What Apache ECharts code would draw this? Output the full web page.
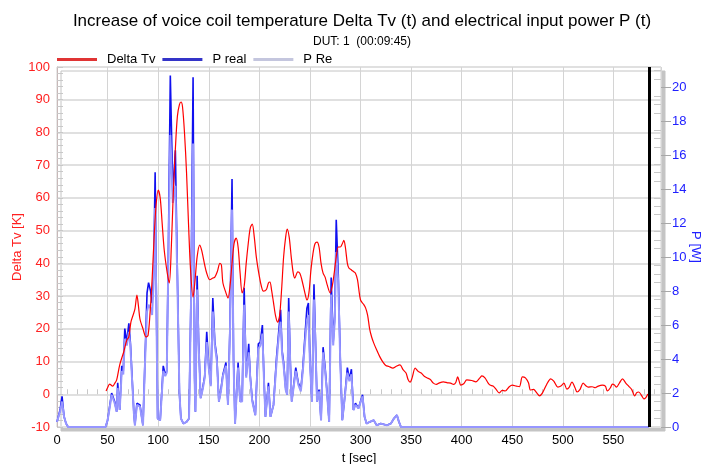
<!DOCTYPE html>
<html>
<head>
<meta charset="utf-8">
<script src="https://cdn.jsdelivr.net/npm/echarts@6/dist/echarts.min.js"></script>
<style>
  html, body { margin: 0; padding: 0; background: #fff; }
  #chart { width: 702px; height: 464px; }
</style>
</head>
<body>
<div id="chart"></div>
<script>
const FONT = "'Liberation Sans', Arial, sans-serif";

// Delta Tv [K] over t [sec]
const tempTime = [48.5, 50, 52, 55, 57, 59, 62, 66, 69, 71, 73, 75, 77, 79, 80.5, 82, 85, 88, 90, 92, 94, 96, 98, 100, 102, 104, 106, 109, 111, 113, 115, 117, 119, 121, 122.6, 124, 126, 128, 130, 132, 134.5, 136.5, 138.5, 141, 143, 146, 148, 151, 154, 156, 158.5, 161, 162.5, 164, 167, 169, 171, 173, 175, 177, 179, 181, 183, 185, 187, 189, 191, 193, 195, 197, 200, 202, 204, 207, 209, 210.5, 212, 214, 216, 218, 220, 222, 224, 226, 227.5, 229.5, 231.5, 233.5, 235, 238, 240, 242, 245, 247, 249, 251, 253, 255, 257, 259, 261, 263, 265, 267, 270, 272, 274, 276, 278, 280, 282, 283.5, 285, 287, 288.5, 291, 293, 295, 297, 300, 303, 305, 307, 309, 311, 313, 316, 319, 322, 325, 328, 332, 335, 339, 342, 345, 347, 349, 351, 354, 357, 360, 363, 366, 369, 372, 375, 378, 382, 386, 389, 392, 394, 396, 398, 399, 402, 405, 410, 414, 418, 420, 423, 426, 428, 431, 434, 437, 440, 443, 447, 450, 454, 457, 460, 463, 466, 468, 471, 474, 477, 480, 484, 488, 491, 495, 498, 501, 504, 506, 509, 512, 514, 517, 520, 523, 525, 529, 532, 535, 539, 542, 544, 547, 549, 551, 553, 556, 559, 562, 565, 568, 571, 573, 575, 578, 580, 582, 584];
const deltaTv = [1, 2, 3.1, 2.5, 3.3, 4.4, 9, 13, 16.6, 17.5, 22, 24, 26, 30.3, 27, 23, 20, 17.5, 18, 25, 35, 48, 58, 62.4, 60, 52, 44, 37, 34, 45, 62, 75, 85, 88.5, 89.3, 88, 80, 68, 52, 38, 29.7, 35, 42, 45.6, 44, 39.5, 37, 35, 35.5, 35.8, 37.5, 40, 39.5, 34, 31, 29.4, 33, 40, 46, 47.7, 45, 37, 31, 33, 40, 46, 50.8, 52, 48, 42, 36, 33, 31.5, 32, 34, 34.3, 32, 28, 24, 22, 24, 32, 42, 48, 50.5, 48, 42, 37, 35.5, 37.4, 37, 35, 31, 28.8, 31, 38, 43, 46, 46.5, 45, 40, 37, 35.8, 33.5, 31, 33, 37, 42, 45, 45, 46, 47, 45, 40, 38.6, 38, 37.5, 37, 35, 28.8, 27.5, 26.4, 24.2, 20, 17.5, 15.7, 13.5, 11.5, 9.9, 8.8, 8.5, 8, 8.5, 9, 7.5, 6.5, 4.5, 3.7, 5, 8, 7, 6.5, 5.5, 5, 4.5, 3.4, 3, 3.5, 3.8, 3.5, 3.4, 3.0, 3.5, 5.3, 3.5, 2.8, 3.2, 4.4, 4.2, 3.8, 5.0, 5.6, 5.0, 3.5, 2.8, 2.5, 1.5, 0.4, 1.2, 1.0, 2.3, 2.8, 2.5, 2.3, 5.3, 5.0, 3.5, 1.3, 1.5, 0.5, -0.5, 0.5, 3.0, 4.7, 4.0, 2.2, 2.5, 3.4, 1.6, 2.0, 3.7, 2.0, 0.7, 1.5, 3.4, 2.5, 2.2, 2.3, 2.0, 2.5, 2.8, 2.5, 1.0, 2.0, 3.1, 2.8, 2.2, 3.5, 4.7, 3.5, 2.5, 1.5, -0.5, 0.5, 0.7, -0.5, -1.4, -1.0, 0.1];

// P [W] over t [sec]
const powerTime = [0, 3, 5, 7, 9, 11, 48, 50, 52, 54, 57, 59, 60, 62, 64, 65.5, 67, 69, 71, 72.5, 74, 76, 77, 79, 82, 83.5, 85, 87, 89, 90.5, 92.5, 94, 95.5, 97, 98.5, 99.5, 102, 105, 107, 108.5, 110, 112, 114.5, 117, 119, 121, 122.5, 125, 128, 130.5, 132.5, 134.5, 136, 136.8, 138.5, 140, 142, 144, 146, 148, 150, 152, 154, 156, 158, 160, 162, 164, 167, 169, 171, 173, 174.5, 176, 179, 181, 183, 185, 187, 189.5, 191, 193, 196, 199, 201, 203, 204.5, 206, 209, 211, 214, 217, 219, 221, 222.5, 224, 226, 227.5, 229, 230.5, 232, 234, 236, 238.5, 241, 243, 245, 247, 248.5, 250, 252, 254, 255.5, 257, 259, 261, 263, 265, 267, 269, 271, 273, 274.5, 276, 278, 280, 282, 284, 287, 289, 291, 293, 295, 298, 302, 304, 306, 309, 313, 316, 320, 326, 330, 333, 336, 338, 340, 585];
const pReal = [0.3, 1.0, 1.8, 0.6, 0.2, 0, 0, 0.4, 1.2, 2.0, 1.5, 0.9, 2.6, 1.0, 3.6, 3.3, 5.8, 5.0, 6.1, 5.0, 3.2, 0.8, 0.1, 1.4, 1.3, 1.2, 0.1, 4.0, 7.9, 8.5, 8.0, 7.3, 9.0, 15.0, 6.0, 0.5, 0.4, 3.6, 3.1, 3.3, 10, 20.7, 13.7, 16.3, 9.0, 2.0, 0.5, 0.2, 0.3, 0.5, 8.0, 20.6, 3.0, 0.9, 8.9, 5.0, 1.7, 2.3, 3.0, 5.6, 3.6, 2.5, 7.6, 5.0, 4.1, 1.5, 2.2, 3.1, 3.8, 1.3, 6.0, 14.6, 4.0, 0.2, 3.8, 1.5, 1.6, 8.2, 3.0, 4.9, 3.0, 1.6, 0.7, 4.9, 5.0, 6.0, 3.0, 0.6, 2.6, 0.6, 1.3, 4.1, 5.5, 6.9, 4.5, 3.8, 2.3, 1.9, 7.6, 4.0, 1.5, 2.5, 3.5, 2.6, 2.2, 3.5, 5.3, 7.0, 7.3, 4.0, 1.5, 8.4, 5.0, 1.5, 2.2, 0.4, 4.7, 3.5, 2.0, 0.3, 8.8, 5.0, 6.5, 12.2, 9.0, 4.0, 0.4, 1.5, 3.5, 2.8, 3.4, 1.0, 1.4, 1.1, 1.9, 0.6, 0.2, 0.3, 0.4, 0.1, 0.2, 0.1, 0.2, 0.5, 0.7, 0.3, 0, 0];
const pRe = [0.3, 0.9, 1.5, 0.6, 0.2, 0, 0, 0.4, 1.1, 1.9, 1.4, 0.9, 2.3, 1.0, 3.3, 3.1, 5.2, 4.8, 5.6, 4.8, 3.0, 0.8, 0.1, 1.3, 1.2, 1.1, 0.1, 3.8, 6.8, 7.2, 7.0, 6.6, 8.5, 12.9, 5.5, 0.5, 0.4, 3.3, 3.0, 3.2, 9.5, 17.2, 13.2, 14.2, 8.5, 2.0, 0.5, 0.2, 0.3, 0.5, 7.5, 16.7, 2.9, 0.9, 8.1, 4.8, 1.7, 2.2, 2.9, 5.0, 3.5, 2.4, 6.8, 4.8, 3.9, 1.5, 2.1, 3.0, 3.6, 1.3, 5.7, 12.8, 3.8, 0.2, 3.5, 1.5, 1.5, 7.2, 2.9, 4.4, 2.9, 1.5, 0.7, 4.6, 4.8, 5.5, 2.9, 0.6, 2.4, 0.6, 1.3, 3.8, 5.2, 6.2, 4.3, 3.6, 2.2, 1.9, 6.8, 3.8, 1.5, 2.4, 3.3, 2.5, 2.1, 3.3, 4.9, 6.3, 6.6, 3.8, 1.5, 7.5, 4.8, 1.5, 2.1, 0.4, 4.4, 3.3, 1.9, 0.3, 7.8, 4.8, 6.2, 10.3, 8.5, 3.8, 0.4, 1.5, 3.2, 2.7, 3.1, 1.0, 1.3, 1.1, 1.8, 0.6, 0.2, 0.3, 0.4, 0.1, 0.2, 0.1, 0.2, 0.5, 0.7, 0.3, 0, 0];

const cursorTime = 585;
const tempTicks = [-10, 100, 10];   // min, max, step
const powerTicks = [0, 21.2, 2];
const timeTicks = [0, 597, 50];

const zip = (xs, ys) => xs.map((x, i) => [x, ys[i]]);

const chart = echarts.init(document.getElementById("chart"));

const option = {
  animation: false,
  textStyle: { fontFamily: FONT },
  title: [
    {
      text: "Increase of voice coil temperature Delta Tv (t) and electrical input power P (t)",
      left: 357,
      textAlign: "center",
      top: 8,
      textStyle: { fontFamily: FONT, fontSize: 17, fontWeight: "normal", color: "#000" },
    },
    {
      text: "DUT: 1  (00:09:45)",
      left: 357,
      textAlign: "center",
      top: 31,
      textStyle: { fontFamily: FONT, fontSize: 12, fontWeight: "normal", color: "#000" },
    },
  ],
  legend: {
    left: 52,
    top: 48,
    icon: "rect",
    itemWidth: 40,
    itemHeight: 3,
    itemGap: 7,
    textStyle: { fontFamily: FONT, fontSize: 13, color: "#000", padding: [0, 0, 0, 5] },
    data: [
      { name: "Delta Tv", itemStyle: { color: "#e03434" } },
      { name: "P real", itemStyle: { color: "#3434c8" } },
      { name: "P Re", itemStyle: { color: "#c4c6de" } },
    ],
  },
  grid: {
    left: 57,
    right: 41,
    top: 67,
    bottom: 37,
    outerBoundsMode: "none",
    show: true,
    backgroundColor: "#fff",
    borderColor: "#d0d0d0",
    borderWidth: 1,
    shadowColor: "#c4c4c4",
    shadowBlur: 0,
    shadowOffsetX: 4,
    shadowOffsetY: 4,
  },
  xAxis: {
    type: "value",
    min: timeTicks[0],
    max: timeTicks[1],
    interval: timeTicks[2],
    name: "t [sec]",
    nameLocation: "middle",
    nameGap: 16,
    nameTextStyle: { fontFamily: FONT, fontSize: 13, color: "#000" },
    axisLine: { show: false },
    axisTick: { show: true, inside: true, length: 5, lineStyle: { color: "#c8c8c8" } },
    minorTick: { show: true, splitNumber: 5, length: 5, lineStyle: { color: "#c8c8c8" } },
    axisLabel: {
      fontFamily: FONT,
      fontSize: 13,
      color: "#000",
      margin: 7,
      showMaxLabel: false,
    },
    splitLine: { show: true, lineStyle: { color: "#d4d4d4", width: 1 } },
  },
  yAxis: [
    {
      type: "value",
      min: tempTicks[0],
      max: tempTicks[1],
      interval: tempTicks[2],
      position: "left",
      name: "Delta Tv [K]",
      nameLocation: "middle",
      nameGap: 33,
      nameMoveOverlap: false,
      nameTextStyle: { fontFamily: FONT, fontSize: 13, color: "#ff2020" },
      axisLine: { show: true, lineStyle: { color: "#c8b8b8", width: 1 } },
      axisTick: { show: true, inside: true, length: 6, lineStyle: { color: "#c8c8c8" } },
      minorTick: { show: true, splitNumber: 5, length: 6, lineStyle: { color: "#c8c8c8" } },
      axisLabel: { fontFamily: FONT, fontSize: 13, color: "#ff2020", margin: 7 },
      splitLine: { show: true, lineStyle: { color: "#e0e0e0", width: 2 } },
    },
    {
      type: "value",
      min: powerTicks[0],
      max: powerTicks[1],
      interval: powerTicks[2],
      position: "right",
      name: "P [W]",
      nameLocation: "middle",
      nameRotate: -90,
      nameGap: 28,
      nameMoveOverlap: false,
      nameTextStyle: { fontFamily: FONT, fontSize: 13, color: "#2020ff" },
      axisLine: { show: false },
      axisTick: { show: true, inside: false, length: 10, lineStyle: { color: "#a8a8a8" } },
      axisLabel: { fontFamily: FONT, fontSize: 13, color: "#2020ff", margin: 11, showMaxLabel: false },
      splitLine: { show: false },
    },
    {
      // inner minor ticks of the power scale
      type: "value",
      min: powerTicks[0],
      max: powerTicks[1],
      interval: powerTicks[2],
      position: "right",
      axisLine: { show: false },
      axisTick: { show: false, inside: true },
      minorTick: { show: true, splitNumber: 4, length: 7, lineStyle: { color: "#c8c8c8" } },
      axisLabel: { show: false },
      splitLine: { show: false },
    },
  ],
  series: [
    {
      name: "P real",
      type: "line",
      yAxisIndex: 1,
      data: zip(powerTime, pReal),
      showSymbol: false,
      lineStyle: { color: "#1010f0", width: 1.6 },
      itemStyle: { color: "#1010f0" },
      z: 2,
    },
    {
      name: "P Re",
      type: "line",
      yAxisIndex: 1,
      data: zip(powerTime, pRe),
      showSymbol: false,
      lineStyle: { color: "#9696ff", width: 2 },
      itemStyle: { color: "#9696ff" },
      z: 3,
    },
    {
      name: "Delta Tv",
      type: "line",
      yAxisIndex: 0,
      data: zip(tempTime, deltaTv),
      showSymbol: false,
      smooth: 0.3,
      lineStyle: { color: "#ff0000", width: 1.2 },
      itemStyle: { color: "#ff0000" },
      z: 4,
      markLine: {
        silent: true,
        symbol: "none",
        label: { show: false },
        lineStyle: { color: "#000", width: 3, type: "solid" },
        data: [{ xAxis: cursorTime }],
      },
    },
  ],
};

chart.setOption(option);
</script>
</body>
</html>
